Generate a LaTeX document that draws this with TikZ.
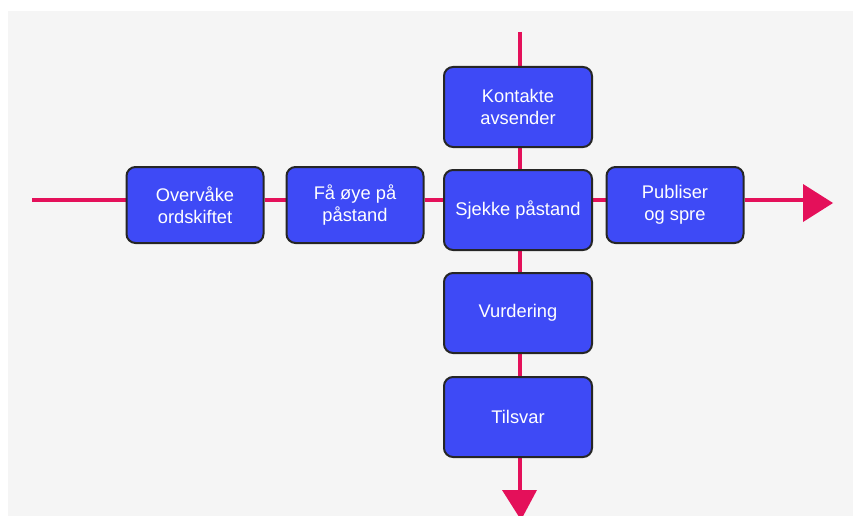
\documentclass[tikz,border=0pt]{standalone}
\usepackage{fontspec}
\setmainfont{Liberation Sans}
\usetikzlibrary{backgrounds}
\definecolor{bggray}{RGB}{245,245,245}
\definecolor{boxblue}{RGB}{62,74,246}
\definecolor{edgedark}{RGB}{38,38,38}
\definecolor{linkpink}{RGB}{228,16,90}
\begin{document}
\begin{tikzpicture}[x=1pt,y=-1pt,
  stepbox/.style={draw=edgedark, line width=2pt, fill=boxblue, rounded corners=9pt,
    text=white, align=center, font=\fontsize{18.3}{22}\selectfont, inner sep=0pt},
  smallbox/.style={stepbox, minimum width=137pt, minimum height=76pt},
  bigbox/.style={stepbox, minimum width=148pt, minimum height=80pt},
  conn/.style={draw=linkpink, line width=4pt},
  tip/.style={fill=linkpink}]
\useasboundingbox (0,0) rectangle (853,516);
\begin{scope}
\clip (0,0) rectangle (853,516);
\node[smallbox] (O) at (195,205) {Overvåke\\ordskiftet};
\node[smallbox] (F) at (355,205) {Få øye på\\påstand};
\node[bigbox] (K) at (518,107) {Kontakte\\avsender};
\node[bigbox] (S) at (518,210) {Sjekke påstand};
\node[smallbox] (P) at (675,205) {Publiser\\og spre};
\node[bigbox] (V) at (518,313) {Vurdering};
\node[bigbox] (T) at (518,417) {Tilsvar};
\coordinate (lstart) at (32,200);
\coordinate (rend) at (803,200);
\coordinate (vtop) at (520,32);
\coordinate (bend) at (520,490);
\begin{scope}[on background layer]
\fill[white] (0,0) rectangle (853,516);
\fill[bggray] (8,11) rectangle (853,516);
\draw[conn] (lstart) -- (O.west |- lstart);
\draw[conn] (O.east |- lstart) -- (F.west |- lstart);
\draw[conn] (F.east |- lstart) -- (S.west |- lstart);
\draw[conn] (S.east |- lstart) -- (P.west |- lstart);
\draw[conn] (P.east |- lstart) -- (rend);
\draw[conn] (vtop) -- (vtop |- K.north);
\draw[conn] (vtop |- K.south) -- (vtop |- S.north);
\draw[conn] (vtop |- S.south) -- (vtop |- V.north);
\draw[conn] (vtop |- V.south) -- (vtop |- T.north);
\draw[conn] (vtop |- T.south) -- (bend);
\end{scope}
\fill[tip] (rend) ++(0,-16) -- ++(30,19) -- ++(-30,19) -- cycle;
\fill[tip] (bend) ++(-18,0) -- ++(35,0) -- ++(-16,30) -- cycle;
\end{scope}
\end{tikzpicture}
\end{document}
